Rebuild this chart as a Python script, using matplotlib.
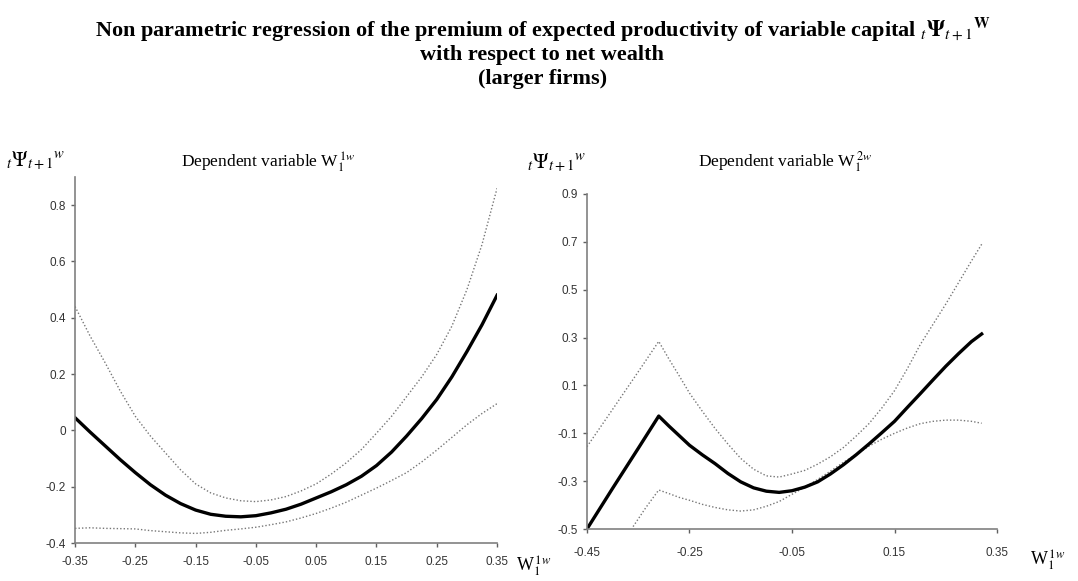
import matplotlib
matplotlib.use("Agg")
import matplotlib.pyplot as plt
import numpy as np

plt.rcParams['mathtext.fontset'] = 'stix'
plt.rcParams['font.family'] = 'Liberation Sans'

# left panel : dependent variable W1^1w
x_left = [-0.35, -0.325, -0.30, -0.275, -0.25, -0.225, -0.20, -0.175, -0.15,
          -0.125, -0.10, -0.075, -0.05, -0.025, 0.00, 0.025, 0.05, 0.075,
          0.10, 0.125, 0.15, 0.175, 0.20, 0.225, 0.25, 0.275, 0.30, 0.325, 0.35]
fit_left = [0.045, -0.006, -0.055, -0.104, -0.15, -0.193, -0.23, -0.26, -0.283,
            -0.298, -0.305, -0.307, -0.303, -0.293, -0.28, -0.262, -0.24, -0.218,
            -0.193, -0.163, -0.125, -0.077, -0.02, 0.042, 0.11, 0.19, 0.28, 0.375, 0.48]
up_left = [0.44, 0.335, 0.24, 0.14, 0.05, -0.02, -0.08, -0.14, -0.19,
           -0.222, -0.24, -0.25, -0.253, -0.247, -0.235, -0.215, -0.19, -0.155,
           -0.115, -0.068, -0.01, 0.05, 0.12, 0.19, 0.27, 0.37, 0.50, 0.66, 0.86]
low_left = [-0.348, -0.346, -0.348, -0.349, -0.35, -0.356, -0.36, -0.364, -0.366,
            -0.362, -0.355, -0.35, -0.344, -0.335, -0.325, -0.311, -0.295, -0.276,
            -0.255, -0.23, -0.205, -0.178, -0.15, -0.112, -0.07, -0.025, 0.02, 0.06, 0.095]

# right panel : dependent variable W1^2w
x_right = [-0.45, -0.40, -0.35, -0.31, -0.29, -0.27, -0.25, -0.225, -0.20, -0.175,
           -0.15, -0.125, -0.10, -0.075, -0.05, -0.025, 0.00, 0.025, 0.05, 0.075,
           0.10, 0.125, 0.15, 0.175, 0.20, 0.225, 0.25, 0.275, 0.30, 0.32]
fit_right = [-0.5, -0.33, -0.163, -0.028, -0.07, -0.11, -0.15, -0.19, -0.227, -0.268,
             -0.303, -0.328, -0.342, -0.347, -0.34, -0.325, -0.303, -0.27, -0.232, -0.19,
             -0.145, -0.098, -0.05, 0.008, 0.065, 0.123, 0.18, 0.233, 0.283, 0.315]
up_right = [-0.156, 0.0, 0.157, 0.284, 0.21, 0.14, 0.068, -0.008, -0.08, -0.145,
            -0.205, -0.25, -0.278, -0.283, -0.27, -0.255, -0.229, -0.198, -0.16, -0.112,
            -0.06, 0.005, 0.078, 0.17, 0.27, 0.355, 0.44, 0.53, 0.62, 0.69]
x_low_right = [-0.36, -0.335, -0.31, -0.29, -0.27, -0.25, -0.225, -0.20, -0.175,
               -0.15, -0.125, -0.10, -0.075, -0.05, -0.025, 0.00, 0.025, 0.05, 0.075,
               0.10, 0.125, 0.15, 0.175, 0.20, 0.225, 0.25, 0.275, 0.30, 0.32]
low_right = [-0.49, -0.41, -0.337, -0.352, -0.368, -0.38, -0.397, -0.41, -0.42,
             -0.425, -0.42, -0.405, -0.385, -0.355, -0.325, -0.293, -0.258, -0.222, -0.188,
             -0.154, -0.125, -0.10, -0.078, -0.06, -0.05, -0.045, -0.045, -0.05, -0.058]

yticks_left = [-0.4, -0.2, 0, 0.2, 0.4, 0.6, 0.8]
yticklabels_left = ["-0.4", "-0.2", "0", "0.2", "0.4", "0.6", "0.8"]
xticks_left = [-0.35, -0.25, -0.15, -0.05, 0.05, 0.15, 0.25, 0.35]
yticks_right = [-0.5, -0.3, -0.1, 0.1, 0.3, 0.5, 0.7, 0.9]
xticks_right = [-0.45, -0.25, -0.05, 0.15, 0.35]

fig = plt.figure(figsize=(10.78, 5.81), dpi=100)
axl = fig.add_axes([0.0696, 0.0654, 0.3915, 0.630])
axr = fig.add_axes([0.5445, 0.0895, 0.3804, 0.5766])

def style(ax):
    for s in ['top', 'right']:
        ax.spines[s].set_visible(False)
    for s in ['left', 'bottom']:
        ax.spines[s].set_color('#808080')
        ax.spines[s].set_linewidth(1.2)
    ax.tick_params(direction='out', length=3, width=1, color='#606060',
                   labelsize=8.5, labelcolor='#333333')

dots = (0, (1, 1.5))

# left
axl.plot(x_left, up_left, color='#777777', lw=1.0, ls=dots)
axl.plot(x_left, low_left, color='#777777', lw=1.0, ls=dots)
axl.plot(x_left, fit_left, color='black', lw=2.4)
axl.set_xlim(-0.35, 0.35)
axl.set_ylim(-0.4, 0.9)
axl.set_yticks(yticks_left)
axl.set_yticklabels(yticklabels_left)
axl.set_xticks(xticks_left)
axl.set_xticklabels(["%.2f" % v for v in xticks_left])
style(axl)
axl.tick_params(axis='x', pad=6)

# right
axr.plot(x_right, up_right, color='#777777', lw=1.0, ls=dots)
axr.plot(x_low_right, low_right, color='#777777', lw=1.0, ls=dots)
axr.plot(x_right, fit_right, color='black', lw=2.4)
axr.set_xlim(-0.45, 0.35)
axr.set_ylim(-0.5, 0.9)
axr.set_yticks(yticks_right)
axr.set_yticklabels(["%.1f" % v for v in yticks_right])
axr.set_xticks(xticks_right)
axr.set_xticklabels(["%.2f" % v for v in xticks_right])
style(axr)
axr.tick_params(axis='x', pad=10)

# labels
ylab = r'$_{t}\Psi_{t+1}{}^{w}$'
fig.text(36 / 1078, 1 - 160 / 581, ylab, fontsize=15, ha='center', va='center')
fig.text(557 / 1078, 1 - 162 / 581, ylab, fontsize=15, ha='center', va='center')
fig.text(268 / 1078, 1 - 162 / 581, r'Dependent variable W$_1^{\,1w}$',
         family='Liberation Serif', fontsize=12.5, ha='center', va='center')
fig.text(785 / 1078, 1 - 162 / 581, r'Dependent variable W$_1^{\,2w}$',
         family='Liberation Serif', fontsize=12.5, ha='center', va='center')
fig.text(516 / 1078, 1 - 566 / 581, r'W$_1^{\,1w}$', family='Liberation Serif',
         fontsize=13, ha='left', va='center')
fig.text(1030 / 1078, 1 - 560 / 581, r'W$_1^{\,1w}$', family='Liberation Serif',
         fontsize=13, ha='left', va='center')

title_kw = dict(family='Liberation Serif', weight='bold', fontsize=16,
                ha='center', va='center')
fig.text(0.503, 1 - 30 / 581,
         r'Non parametric regression of the premium of expected productivity of variable capital $_t\mathbf{\Psi}_{t+1}{}^{\mathbf{W}}$',
         **title_kw)
fig.text(0.503, 1 - 55 / 581, 'with respect to net wealth', **title_kw)
fig.text(0.503, 1 - 79 / 581, '(larger firms)', **title_kw)

fig.savefig("out.png", dpi=100)
